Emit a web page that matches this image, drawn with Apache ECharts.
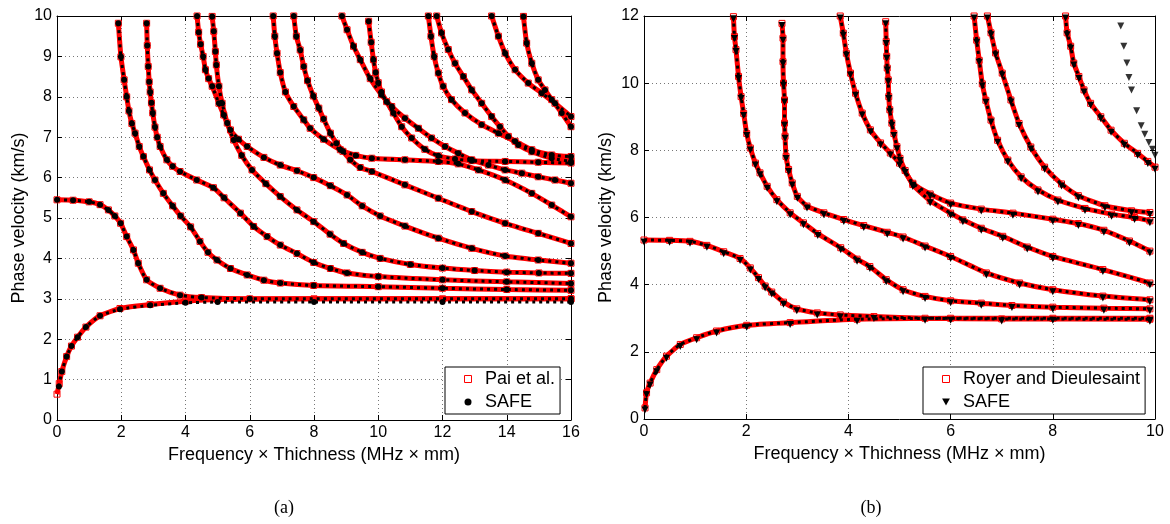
<!DOCTYPE html>
<html>
<head>
<meta charset="utf-8">
<script src="https://cdn.jsdelivr.net/npm/echarts@6/dist/echarts.min.js"></script>
<style>
html, body { margin: 0; padding: 0; background: #fff; }
#chart { width: 1170px; height: 524px; }
</style>
</head>
<body>
<div id="chart"></div>
<script>
// axis ranges
const xRangeA = [0, 16, 2];
const yRangeA = [0, 10, 1];
const xRangeB = [0, 10, 2];
const yRangeB = [0, 12, 2];

// ---- panel (a): Pai et al. (red) and SAFE (black), [fd, velocity] ----
const a_A0 = [[0,0.64],[0.07,0.9],[0.15,1.2],[0.3,1.57],[0.45,1.83],[0.64,2.05],[0.9,2.3],[1.34,2.58],[1.96,2.76],[2.9,2.86],[4.0,2.94],[5,2.98],[8,3.0],[12,3.0],[16,3.0]];
const a_A0_safe = [[0.06,0.83],[0.15,1.2],[0.3,1.57],[0.45,1.83],[0.64,2.05],[0.9,2.3],[1.34,2.58],[1.96,2.74],[2.9,2.84],[4.0,2.9],[5,2.92],[8,2.92],[12,2.92],[16,2.92]];
const a_S0 = [[0,5.45],[0.5,5.44],[1.0,5.4],[1.34,5.33],[1.6,5.2],[1.8,5.05],[1.98,4.87],[2.17,4.54],[2.38,4.21],[2.53,3.88],[2.79,3.47],[3.21,3.26],[3.83,3.09],[4.5,3.03],[6,3.0],[16,3.0]];
const a_M3 = [[1.91,9.82],[1.99,8.99],[2.09,8.42],[2.17,8.0],[2.24,7.65],[2.33,7.34],[2.43,7.1],[2.56,6.77],[2.69,6.52],[2.88,6.19],[3.05,5.94],[3.31,5.61],[3.6,5.3],[3.85,5.05],[4.16,4.78],[4.45,4.42],[4.7,4.15],[4.98,3.96],[5.4,3.75],[5.92,3.59],[6.44,3.46],[6.95,3.39],[7.99,3.33],[10,3.3],[12,3.26],[14,3.23],[16,3.21]];
const a_M4 = [[2.79,9.82],[2.81,9.27],[2.84,8.75],[2.87,8.37],[2.9,8.12],[2.94,7.85],[2.98,7.6],[3.05,7.25],[3.12,7.0],[3.21,6.77],[3.42,6.44],[3.6,6.28],[3.83,6.15],[4.35,5.94],[4.87,5.75],[5.2,5.5],[5.71,5.12],[6.12,4.79],[6.54,4.54],[6.95,4.33],[7.47,4.12],[7.99,3.9],[8.51,3.75],[9.03,3.64],[10,3.55],[12,3.47],[14,3.42],[16,3.38]];
const a_M5a = [[4.36,10.0],[4.41,9.6],[4.47,9.3],[4.55,9.0],[4.62,8.67],[4.72,8.45],[4.83,8.26],[5.04,7.84],[5.19,7.55],[5.4,7.18],[5.65,6.95],[5.92,6.77],[6.44,6.5],[6.95,6.31],[7.47,6.17],[7.99,6.0],[8.51,5.8],[9.03,5.57],[9.5,5.3],[10.06,5.05],[10.83,4.8],[11.87,4.5],[12.91,4.25],[13.95,4.06],[14.98,3.96],[16,3.88]];
const a_M5b = [[4.83,9.99],[4.88,9.62],[4.93,9.12],[4.96,8.79],[5.04,8.26],[5.14,7.84],[5.3,7.35],[5.5,6.93],[5.75,6.55],[6.07,6.19],[6.5,5.85],[6.95,5.53],[7.47,5.2],[7.99,4.91],[8.5,4.6],[8.92,4.37],[9.5,4.15],[10.06,4.0],[11,3.85],[12,3.76],[13,3.7],[14,3.66],[15,3.64],[16,3.63]];
const a_M6a = [[6.73,10],[6.78,9.5],[6.85,9.08],[6.95,8.6],[7.11,8.12],[7.37,7.76],[7.68,7.43],[7.88,7.22],[8.3,6.95],[8.82,6.69],[9.3,6.55],[9.8,6.48],[10.83,6.44],[11.87,6.4],[12.49,6.34],[13.12,6.19],[13.95,5.94],[14.78,5.61],[15.4,5.32],[16,5.03]];
const a_M6b = [[7.37,10],[7.45,9.5],[7.57,9.16],[7.68,8.75],[7.8,8.4],[7.98,8.02],[8.15,7.72],[8.3,7.45],[8.51,7.1],[8.7,6.85],[8.9,6.65],[9.13,6.44],[9.44,6.25],[9.8,6.15],[10.83,5.82],[11.87,5.49],[12.91,5.16],[13.95,4.87],[14.98,4.62],[16,4.37]];
const a_M6c = [[8.87,10],[9.03,9.66],[9.23,9.25],[9.44,8.92],[9.75,8.45],[10.1,8.05],[10.42,7.76],[10.83,7.47],[11.25,7.22],[11.66,6.98],[12.08,6.77],[12.49,6.6],[12.91,6.44],[13.43,6.31],[13.95,6.19],[14.47,6.11],[14.98,6.02],[15.5,5.94],[16,5.86]];
const a_M6d = [[9.7,9.87],[9.78,9.35],[9.85,8.92],[9.92,8.6],[10.0,8.35],[10.1,8.12],[10.26,7.88],[10.47,7.6],[10.73,7.26],[11.04,6.98],[11.45,6.7],[11.87,6.54],[12.39,6.46],[12.91,6.42],[13.95,6.4],[14.98,6.38],[16,6.36]];
const a_M7a = [[11.56,10],[11.64,9.5],[11.74,9.0],[11.87,8.59],[12.02,8.26],[12.28,7.93],[12.7,7.6],[13.22,7.31],[13.74,7.1],[14.26,6.9],[14.78,6.69],[15.4,6.56],[16,6.52]];
const a_M7b = [[11.82,10],[11.97,9.58],[12.18,9.17],[12.39,8.83],[12.65,8.5],[12.91,8.17],[13.22,7.84],[13.53,7.51],[13.79,7.26],[14.05,7.02],[14.36,6.81],[14.78,6.64],[15.4,6.48],[16,6.4]];
const a_M8a = [[13.53,10],[13.74,9.5],[13.95,9.08],[14.26,8.67],[14.67,8.34],[15.09,8.09],[15.5,7.84],[16,7.51]];
const a_M8b = [[14.52,9.99],[14.62,9.33],[14.78,8.83],[14.98,8.42],[15.19,8.17],[15.4,7.93],[15.71,7.6],[16,7.26]];

// ---- panel (b): Royer and Dieulesaint (red) and SAFE (black) ----
const b_A0 = [[0.02,0.33],[0.05,0.78],[0.12,1.07],[0.25,1.47],[0.44,1.87],[0.71,2.22],[1.03,2.42],[1.42,2.62],[2.01,2.79],[2.86,2.87],[4.17,2.97],[6,3.0],[8,3.0],[9.9,3.0]];
const b_S0 = [[0,5.33],[0.5,5.32],[0.9,5.29],[1.23,5.17],[1.56,4.98],[1.88,4.78],[2.08,4.5],[2.24,4.21],[2.37,3.96],[2.5,3.78],[2.73,3.48],[2.99,3.28],[3.39,3.16],[3.84,3.1],[4.5,3.05],[5.5,3.0],[7,2.98],[9.9,2.97]];
const b_B3 = [[1.75,11.98],[1.77,11.39],[1.8,11.0],[1.85,10.2],[1.9,9.6],[1.95,9.1],[2.01,8.5],[2.08,8.07],[2.18,7.62],[2.27,7.33],[2.41,6.93],[2.6,6.53],[2.86,6.14],[3.12,5.84],[3.4,5.52],[3.85,5.1],[4.17,4.76],[4.42,4.54],[4.74,4.15],[5.07,3.85],[5.5,3.65],[6,3.52],[6.6,3.45],[7.2,3.38],[8,3.33],[9,3.3],[9.9,3.28]];
const b_B4 = [[2.7,11.78],[2.72,11.34],[2.72,10.64],[2.73,10.0],[2.75,9.5],[2.75,8.81],[2.76,8.42],[2.78,7.82],[2.83,7.43],[2.9,7.03],[3.0,6.63],[3.19,6.34],[3.52,6.14],[3.91,5.94],[4.3,5.76],[4.76,5.56],[5.07,5.42],[5.5,5.15],[6,4.84],[6.7,4.35],[7.35,4.05],[8,3.85],[8.98,3.66],[9.9,3.55]];
const b_B5 = [[3.84,12],[3.9,11.49],[3.96,10.89],[4.04,10.3],[4.14,9.7],[4.27,9.11],[4.43,8.61],[4.63,8.22],[4.82,7.92],[5.0,7.62],[5.26,7.02],[5.6,6.7],[6,6.43],[6.6,6.25],[7.22,6.13],[8,5.95],[8.5,5.82],[9,5.62],[9.5,5.3],[9.9,5.0]];
const b_B6a = [[4.73,11.83],[4.74,11.24],[4.75,10.8],[4.76,10.45],[4.78,10.1],[4.79,9.6],[4.81,9.21],[4.85,8.81],[4.89,8.5],[4.95,8.11],[5.01,7.76],[5.11,7.4],[5.26,6.98],[5.6,6.5],[6,6.13],[6.24,5.93],[6.6,5.68],[7.02,5.44],[7.5,5.12],[8,4.84],[8.98,4.45],[9.9,4.05]];
const b_B6b = [[6.46,12.0],[6.51,11.28],[6.56,10.68],[6.62,9.98],[6.69,9.49],[6.79,8.9],[6.92,8.3],[7.12,7.71],[7.38,7.21],[7.71,6.82],[8.1,6.52],[8.63,6.27],[9.15,6.1],[9.6,6.0],[9.9,5.9]];
const b_B6c = [[6.72,12.0],[6.79,11.5],[6.88,10.9],[7.01,10.3],[7.18,9.5],[7.34,8.8],[7.57,8.1],[7.84,7.5],[8.17,7.0],[8.5,6.65],[9.02,6.35],[9.54,6.2],[9.9,6.15]];
const b_B7 = [[8.25,12.0],[8.28,11.5],[8.35,11.1],[8.41,10.6],[8.51,10.2],[8.61,9.8],[8.74,9.4],[8.94,9.0],[9.14,8.6],[9.4,8.21],[9.66,7.91],[9.86,7.67],[10.0,7.5]];
const b_B8_safe = [[9.33,11.7],[9.39,11.1],[9.45,10.6],[9.49,10.17],[9.54,9.8],[9.64,9.18],[9.73,8.73],[9.8,8.48],[9.88,8.23],[9.95,8.03],[10.0,7.85]];

const refA = [a_A0, a_S0, a_M3, a_M4, a_M5a, a_M5b, a_M6a, a_M6b, a_M6c, a_M6d, a_M7a, a_M7b, a_M8a, a_M8b];
const safeA = [a_A0_safe, a_S0, a_M3, a_M4, a_M5a, a_M5b, a_M6a, a_M6b, a_M6c, a_M6d, a_M7a, a_M7b, a_M8a, a_M8b];
const refB = [b_A0, b_S0, b_B3, b_B4, b_B5, b_B6a, b_B6b, b_B6c, b_B7];
const safeB = [b_A0, b_S0, b_B3, b_B4, b_B5, b_B6a, b_B6b, b_B6c, b_B7];

const RED = '#ff0000';
const FONT = 'Liberation Sans, Arial, Helvetica, sans-serif';
const triDown = 'path://M0,0L10,0L5,9Z';
const square = 'path://M0,0L10,0L10,10L0,10Z';

function redSeries(name, data, idx) {
    return {
        name: name, type: 'line', xAxisIndex: idx, yAxisIndex: idx,
        data: data, smooth: 0.2,
        symbol: 'rect', symbolSize: 6, showSymbol: true,
        lineStyle: { color: RED, width: 5 },
        itemStyle: { color: 'rgba(0,0,0,0)', borderColor: RED, borderWidth: 1 },
        z: 2, silent: true
    };
}

function safeSeries(data, idx, symbol, size, offset) {
    return {
        name: 'SAFE', type: 'line', xAxisIndex: idx, yAxisIndex: idx,
        data: data, smooth: 0.2,
        symbol: symbol, symbolSize: size, showSymbol: true, symbolOffset: offset,
        lineStyle: { color: '#000', width: 3, type: [3, 4] },
        itemStyle: { color: '#000' },
        z: 3, silent: true
    };
}

function valueAxis(grid, pos, range, showLabel, name, gap) {
    return {
        type: 'value', gridIndex: grid, position: pos,
        min: range[0], max: range[1], interval: range[2],
        name: name || '', nameLocation: 'middle', nameGap: gap || 0,
        nameTextStyle: { fontFamily: FONT, fontSize: 18, color: '#000' },
        axisLine: { show: true, onZero: false, lineStyle: { color: '#000', width: 1 } },
        axisTick: { show: true, inside: true, length: 5, lineStyle: { color: '#000' } },
        axisLabel: { show: showLabel, fontFamily: FONT, fontSize: 16, color: '#000', margin: 5 },
        splitLine: { show: showLabel, lineStyle: { color: '#777', type: [1, 3], width: 1 } }
    };
}

const series = [];
refA.forEach(function (d) { series.push(redSeries('Pai et al.', d, 0)); });
safeA.forEach(function (d) { series.push(safeSeries(d, 0, 'circle', 6, [0, 0])); });
refB.forEach(function (d) { series.push(redSeries('Royer and Dieulesaint', d, 2)); });
safeB.forEach(function (d) { series.push(safeSeries(d, 2, triDown, 7, [0, 2])); });
series.push({
    name: 'SAFE', type: 'scatter', xAxisIndex: 2, yAxisIndex: 2,
    data: b_B8_safe, symbol: triDown, symbolSize: 7, itemStyle: { color: '#000' }, z: 3, silent: true
});

const xName = 'Frequency \u00d7 Thichness (MHz \u00d7 mm)';
const yName = 'Phase velocity (km/s)';

function legendBox(left, refName, safeIcon) {
    return {
        orient: 'vertical', left: left, top: 367,
        data: [
            { name: refName, icon: square, itemStyle: { color: '#fff', borderColor: RED, borderWidth: 1 } },
            { name: 'SAFE', icon: safeIcon, itemStyle: { color: '#000', borderWidth: 0 } }
        ],
        symbolKeepAspect: true,
        backgroundColor: '#fff', borderColor: '#000', borderWidth: 1, borderRadius: 0,
        padding: [3, 5, 3, 19], itemWidth: 8, itemHeight: 7, itemGap: 5,
        textStyle: { fontFamily: FONT, fontSize: 18, color: '#000', padding: [0, 0, 0, 8] },
        selectedMode: false
    };
}

const chart = echarts.init(document.getElementById('chart'), null, { renderer: 'canvas' });
chart.setOption({
    animation: false,
    backgroundColor: '#fff',
    grid: [
        { left: 57, top: 16, width: 514, height: 404 },
        { left: 644, top: 16, width: 511, height: 403 }
    ],
    xAxis: [
        valueAxis(0, 'bottom', xRangeA, true, xName, 22),
        valueAxis(0, 'top', xRangeA, false),
        valueAxis(1, 'bottom', xRangeB, true, xName, 22),
        valueAxis(1, 'top', xRangeB, false)
    ],
    yAxis: [
        valueAxis(0, 'left', yRangeA, true, yName, 29),
        valueAxis(0, 'right', yRangeA, false),
        valueAxis(1, 'left', yRangeB, true, yName, 29),
        valueAxis(1, 'right', yRangeB, false)
    ],
    legend: [
        legendBox(445, 'Pai et al.', 'circle'),
        legendBox(923, 'Royer and Dieulesaint', triDown)
    ],
    graphic: [
        { type: 'text', x: 284, y: 508, style: { text: '(a)', font: '18px "Liberation Serif", serif', fill: '#000', align: 'center', verticalAlign: 'middle' } },
        { type: 'text', x: 871, y: 508, style: { text: '(b)', font: '18px "Liberation Serif", serif', fill: '#000', align: 'center', verticalAlign: 'middle' } }
    ],
    series: series
});
</script>
</body>
</html>
